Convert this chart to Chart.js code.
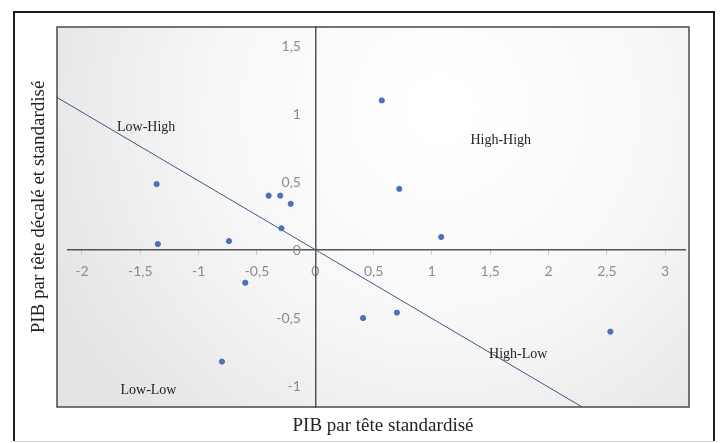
<!DOCTYPE html>
<html>
<head>
<meta charset="utf-8">
<script src="https://cdn.jsdelivr.net/npm/chart.js@4/dist/chart.umd.min.js"></script>
<style>
  html, body { margin: 0; padding: 0; background: #fff; }
  #wrap { width: 721px; height: 443px; }
</style>
</head>
<body>
<div id="wrap"><canvas id="graf"></canvas></div>
<script>
// PIB par tête standardisé (x) vs PIB par tête décalé et standardisé (y)
const pibX = [-1.36, -1.35, -0.74, -0.40, -0.30, -0.21, -0.29, -0.60, -0.80, 0.57, 0.72, 1.08, 0.41, 0.70, 2.53];
const pibY = [0.485, 0.044, 0.066, 0.40, 0.40, 0.34, 0.16, -0.24, -0.82, 1.10, 0.45, 0.096, -0.50, -0.46, -0.60];

// droite de régression
const regX = [-2.22, 2.29];
const regY = [1.125, -1.155];

const xTicks = [-2, -1.5, -1, -0.5, 0, 0.5, 1, 1.5, 2, 2.5, 3];
const yTicks = [-1, -0.5, 0, 0.5, 1, 1.5];

const quadrants = ['Low-High', 'High-High', 'Low-Low', 'High-Low'];
const quadX = [-1.45, 1.59, -1.43, 1.74];
const quadY = [0.90, 0.81, -1.03, -0.77];

const fmt = v => String(v).replace('.', ',');

const decor = {
    id: 'decor',
    beforeDraw(chart) {
        const { ctx, chartArea: a } = chart;
        const L = a.left - 11, R = a.right + 4;
        ctx.save();
        // cadre extérieur
        ctx.strokeStyle = '#1a1a1a';
        ctx.lineWidth = 2;
        ctx.beginPath();
        ctx.moveTo(14, 441); ctx.lineTo(14, 12); ctx.lineTo(714, 12); ctx.lineTo(714, 441);
        ctx.stroke();
        ctx.strokeStyle = '#d0d0d0';
        ctx.lineWidth = 1;
        ctx.beginPath();
        ctx.moveTo(14, 441.5); ctx.lineTo(714, 441.5);
        ctx.stroke();
        // fond de la zone de tracé
        const g = ctx.createRadialGradient(440, 110, 20, 440, 110, 430);
        g.addColorStop(0, '#ffffff');
        g.addColorStop(0.5, '#f7f7f7');
        g.addColorStop(1, '#e4e4e4');
        ctx.fillStyle = g;
        ctx.fillRect(L, a.top, R - L, a.bottom - a.top);
        ctx.restore();
    },
    afterDraw(chart) {
        const { ctx, chartArea: a, scales } = chart;
        const L = a.left - 11, R = a.right + 4;
        ctx.save();
        ctx.strokeStyle = '#4a4a4a';
        ctx.lineWidth = 1.5;
        ctx.strokeRect(L, a.top, R - L, a.bottom - a.top);

        ctx.fillStyle = '#222';
        ctx.font = '14px "Liberation Serif", serif';
        ctx.textAlign = 'center';
        ctx.textBaseline = 'middle';
        quadrants.forEach((q, i) => {
            ctx.fillText(q, scales.x.getPixelForValue(quadX[i]), scales.y.getPixelForValue(quadY[i]));
        });

        ctx.font = '19px "Liberation Serif", serif';
        ctx.fillText('PIB par tête standardisé', 383, 426);
        ctx.translate(39, 207);
        ctx.rotate(-Math.PI / 2);
        ctx.fillText('PIB par tête décalé et standardisé', 0, 0);
        ctx.restore();
    }
};

new Chart(document.getElementById('graf'), {
    type: 'scatter',
    data: {
        datasets: [
            {
                label: 'PIB',
                data: pibX.map((x, i) => ({ x, y: pibY[i] })),
                backgroundColor: '#4a72b8',
                borderColor: '#4a72b8',
                pointRadius: 2.6,
                pointHoverRadius: 2.6
            },
            {
                label: 'Régression',
                type: 'line',
                data: regX.map((x, i) => ({ x, y: regY[i] })),
                borderColor: '#3b5a85',
                borderWidth: 1,
                pointRadius: 0,
                fill: false,
                clip: false
            }
        ]
    },
    options: {
        responsive: true,
        maintainAspectRatio: false,
        animation: false,
        layout: { padding: { left: 68, right: 36, top: 27, bottom: 36 } },
        plugins: { legend: { display: false }, tooltip: { enabled: false } },
        scales: {
            x: {
                type: 'linear',
                position: { y: 0 },
                min: -2.12,
                max: 3.17,
                afterBuildTicks: s => { s.ticks = xTicks.map(v => ({ value: v })); },
                ticks: {
                    autoSkip: false,
                    maxRotation: 0,
                    padding: 9,
                    color: '#8c8c8c',
                    font: { family: 'Lato', size: 14 },
                    callback: v => fmt(v)
                },
                grid: { drawOnChartArea: false, drawTicks: true, tickLength: 4, tickColor: '#c8c8c8' },
                border: { display: true, color: '#555', width: 1.5 }
            },
            y: {
                type: 'linear',
                position: { x: 0 },
                min: -1.154,
                max: 1.64,
                afterBuildTicks: s => { s.ticks = yTicks.map(v => ({ value: v })); },
                ticks: {
                    autoSkip: false,
                    color: '#8c8c8c',
                    font: { family: 'Lato', size: 14 },
                    // décalage à gauche de l'axe (padding ignoré en position centrée)
                    callback: v => fmt(v) + '    '
                },
                grid: { drawOnChartArea: false, drawTicks: false },
                border: { display: true, color: '#555', width: 1.5 }
            }
        }
    },
    plugins: [decor]
});
</script>
</body>
</html>
